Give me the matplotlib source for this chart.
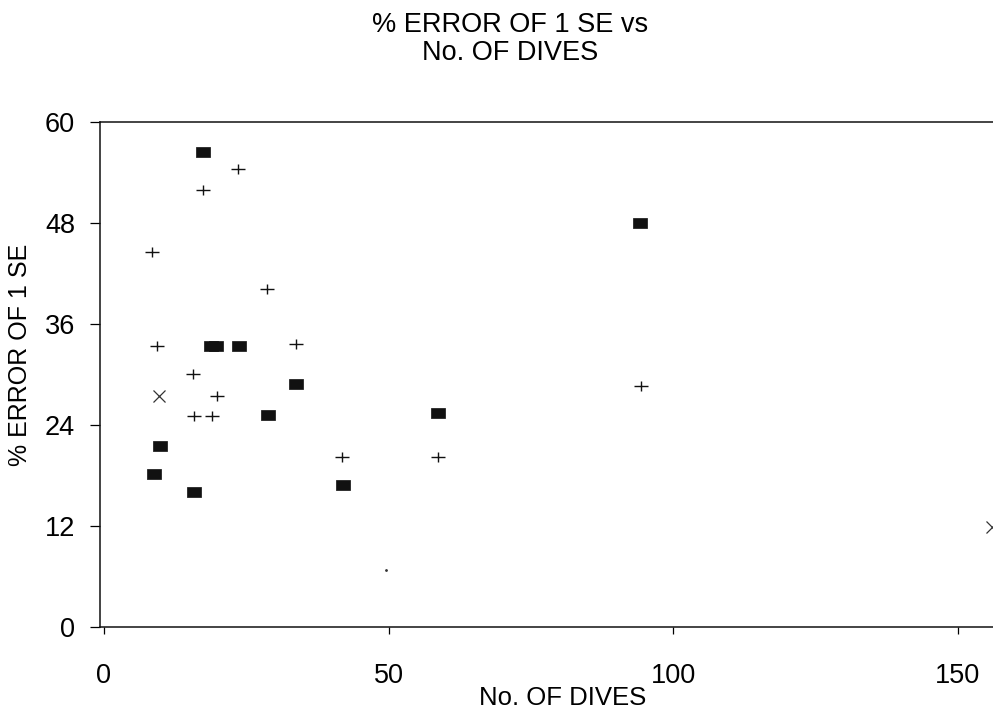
import matplotlib
matplotlib.use("Agg")
import matplotlib.pyplot as plt
from matplotlib.path import Path

plt.rcParams['font.family'] = ['Liberation Sans', 'DejaVu Sans']

# --- data ---
sq_dives = [17.4, 18.8, 19.7, 23.8, 33.7, 28.9, 9.8, 8.8, 15.9, 42.0, 94.1, 58.7]
sq_error = [56.4, 33.4, 33.4, 33.4, 28.9, 25.2, 21.5, 18.2, 16.0, 16.9, 48.0, 25.4]

plus_dives = [23.5, 17.4, 8.4, 28.6, 9.4, 33.7, 15.7, 19.8, 15.8, 18.9, 41.9, 58.7, 94.3]
plus_error = [54.4, 51.9, 44.5, 40.2, 33.4, 33.6, 30.1, 27.4, 25.1, 25.1, 20.2, 20.2, 28.6]

x_dives = [9.7, 156.0]
x_error = [27.4, 11.9]

dot_dives = [49.5]
dot_error = [6.8]

xticks = [0, 50, 100, 150]
yticks = [0, 12, 24, 36, 48, 60]

# slightly wide markers
rect = [(-1.35, -1), (1.35, -1), (1.35, 1), (-1.35, 1), (-1.35, -1)]
cross = Path([(-1.3, 0), (1.3, 0), (0, -1), (0, 1)],
             [Path.MOVETO, Path.LINETO, Path.MOVETO, Path.LINETO])

fig = plt.figure(figsize=(9.93, 7.2), dpi=100)
ax = fig.add_axes([100 / 993, 1 - 627 / 720, 893 / 993, 505 / 720])

ax.plot(sq_dives, sq_error, linestyle='none', marker=rect, markersize=10,
        color='#111111', markeredgewidth=0.5)
ax.plot(plus_dives, plus_error, linestyle='none', marker=cross, markersize=10,
        color='#111111', markerfacecolor='none', markeredgewidth=1.0)
ax.plot(x_dives, x_error, linestyle='none', marker='x', markersize=8,
        color='#333333', markeredgewidth=0.9)
ax.plot(dot_dives, dot_error, linestyle='none', marker='.', markersize=2,
        color='#333333')

ax.set_xlim(-0.7, 156.2)
ax.set_ylim(0, 60)
ax.set_xticks(xticks)
ax.set_yticks(yticks)

ax.spines['right'].set_visible(False)
for s in ['left', 'top', 'bottom']:
    ax.spines[s].set_linewidth(1.1)
    ax.spines[s].set_color('#111111')

ax.tick_params(axis='x', direction='out', length=5, width=0.9, pad=21,
               labelsize=19.5)
ax.tick_params(axis='y', direction='out', length=7, width=0.9, pad=11,
               labelsize=19.5)

fig.text(510 / 993, 1 - 39 / 720, '% ERROR OF 1 SE vs\nNo. OF DIVES',
         ha='center', va='center', fontsize=19.5, linespacing=1.1)
fig.text(563 / 993, 1 - 698 / 720, 'No. OF DIVES', ha='center', va='center',
         fontsize=18.5)
fig.text(20 / 993, 1 - 355 / 720, '% ERROR OF 1 SE', ha='center', va='center',
         rotation=90, fontsize=18)

fig.savefig('out.png', dpi=100)
